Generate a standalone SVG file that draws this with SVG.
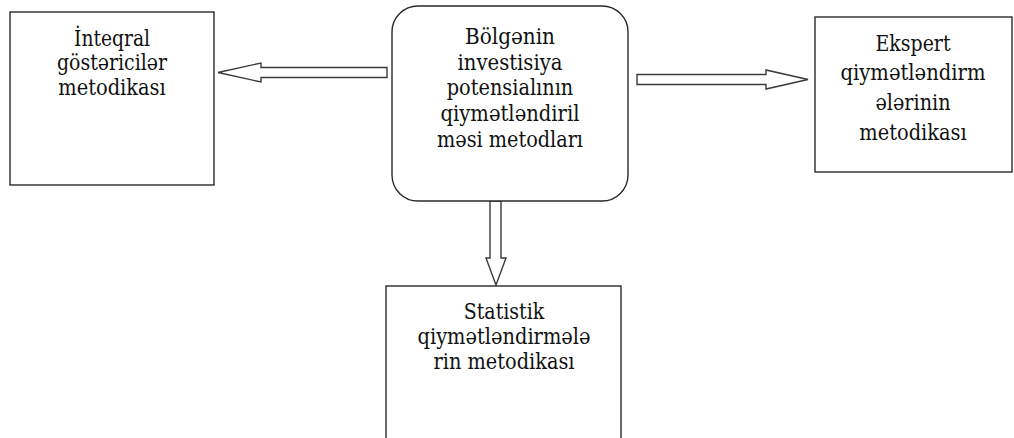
<svg xmlns="http://www.w3.org/2000/svg" width="1014" height="438" viewBox="0 0 1014 438">
<style>
.box{fill:#fff;stroke:#2a2a2a;stroke-width:1.4}
.arr{fill:#fff;stroke:#3a3a3a;stroke-width:1.4;stroke-linejoin:miter}
.t{font-family:"DejaVu Serif Condensed","DejaVu Serif",serif;font-size:22px;fill:#111;text-anchor:middle}
</style>
<rect width="1014" height="438" fill="#fff"/>
<g id="connectors">
<polygon class="arr" points="218,72.5 261,63 261,67.5 387,67.5 387,77.5 261,77.5 261,82"/>
<polygon class="arr" points="637,74.5 766,74.5 766,70 808,79.5 766,89 766,84.5 637,84.5"/>
<polygon class="arr" points="490,201 501,201 501,258 506,258 496,285 486,258 490,258"/>
</g>
<g id="node-integral">
<rect class="box" x="10" y="12" width="204" height="173"/>
<text class="t" x="112" y="45.5" textLength="76" lengthAdjust="spacingAndGlyphs">İnteqral</text>
<text class="t" x="112" y="70" textLength="110" lengthAdjust="spacingAndGlyphs">göstəricilər</text>
<text class="t" x="112" y="94.5" textLength="107.5" lengthAdjust="spacingAndGlyphs">metodikası</text>
</g>
<g id="node-center">
<rect class="box" x="392" y="6" width="236" height="195" rx="26" ry="26"/>
<text class="t" x="510" y="44" textLength="90" lengthAdjust="spacingAndGlyphs">Bölgənin</text>
<text class="t" x="510" y="69.6" textLength="105" lengthAdjust="spacingAndGlyphs">investisiya</text>
<text class="t" x="510" y="95.2" textLength="126.5" lengthAdjust="spacingAndGlyphs">potensialının</text>
<text class="t" x="510" y="120.8" textLength="139" lengthAdjust="spacingAndGlyphs">qiymətləndiril</text>
<text class="t" x="510" y="146.5" textLength="146" lengthAdjust="spacingAndGlyphs">məsi metodları</text>
</g>
<g id="node-ekspert">
<rect class="box" x="815" y="17" width="197" height="155"/>
<text class="t" x="913" y="50.5" textLength="75" lengthAdjust="spacingAndGlyphs">Ekspert</text>
<text class="t" x="913" y="80" textLength="145" lengthAdjust="spacingAndGlyphs">qiymətləndirm</text>
<text class="t" x="913" y="110" textLength="75" lengthAdjust="spacingAndGlyphs">ələrinin</text>
<text class="t" x="913" y="140" textLength="107.5" lengthAdjust="spacingAndGlyphs">metodikası</text>
</g>
<g id="node-statistik">
<rect class="box" x="386" y="286" width="235" height="170"/>
<text class="t" x="504" y="318.5" textLength="80.5" lengthAdjust="spacingAndGlyphs">Statistik</text>
<text class="t" x="504" y="343.5" textLength="173" lengthAdjust="spacingAndGlyphs">qiymətləndirmələ</text>
<text class="t" x="504" y="368.5" textLength="141" lengthAdjust="spacingAndGlyphs">rin metodikası</text>
</g>
</svg>
